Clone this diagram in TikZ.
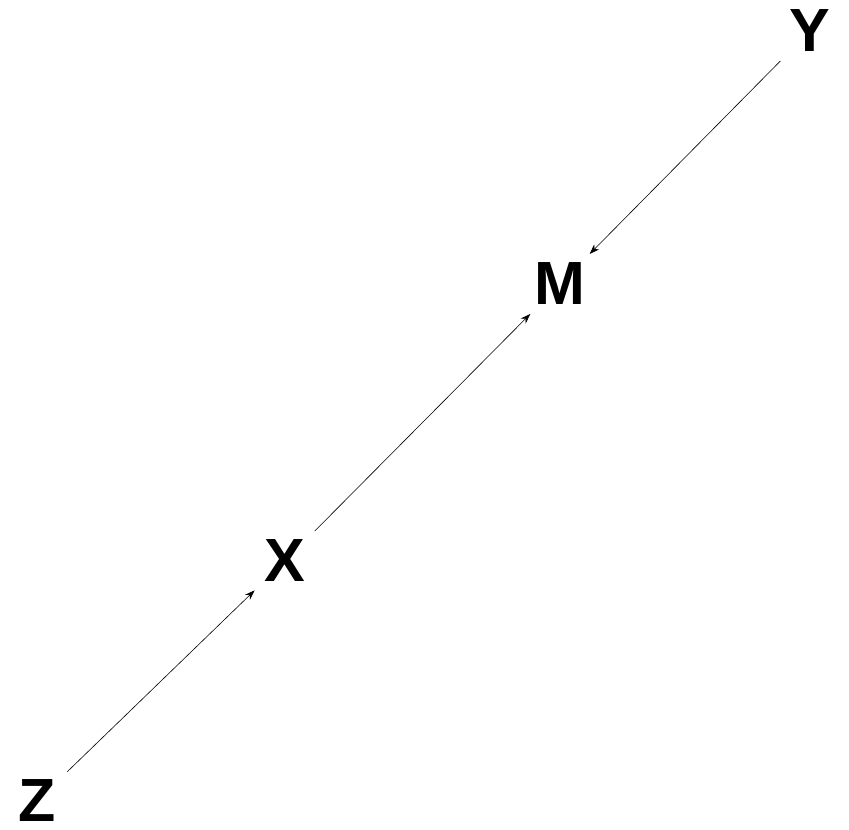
\documentclass[tikz,border=0pt]{standalone}
\usepackage{fontspec}
\setmainfont{Liberation Sans}
\usetikzlibrary{arrows.meta}
\begin{document}
\begin{tikzpicture}[x=1pt,y=-1pt,
  var/.style={circle,inner sep=0pt,minimum size=84pt,font=\fontsize{61}{61}\selectfont\bfseries},
  link/.style={line width=0.6pt,-{Stealth[length=10pt,width=7pt]}}]
\useasboundingbox (0,0) rectangle (849,830);
\node[var] (Y) at (810,31) {Y};
\node[var] (M) at (560,284) {M};
\node[var] (X) at (285,561) {X};
\node[var] (Z) at (37,801) {Z};
\draw[link] (Y) -- (M);
\draw[link] (X) -- (M);
\draw[link] (Z) -- (X);
\end{tikzpicture}
\end{document}
